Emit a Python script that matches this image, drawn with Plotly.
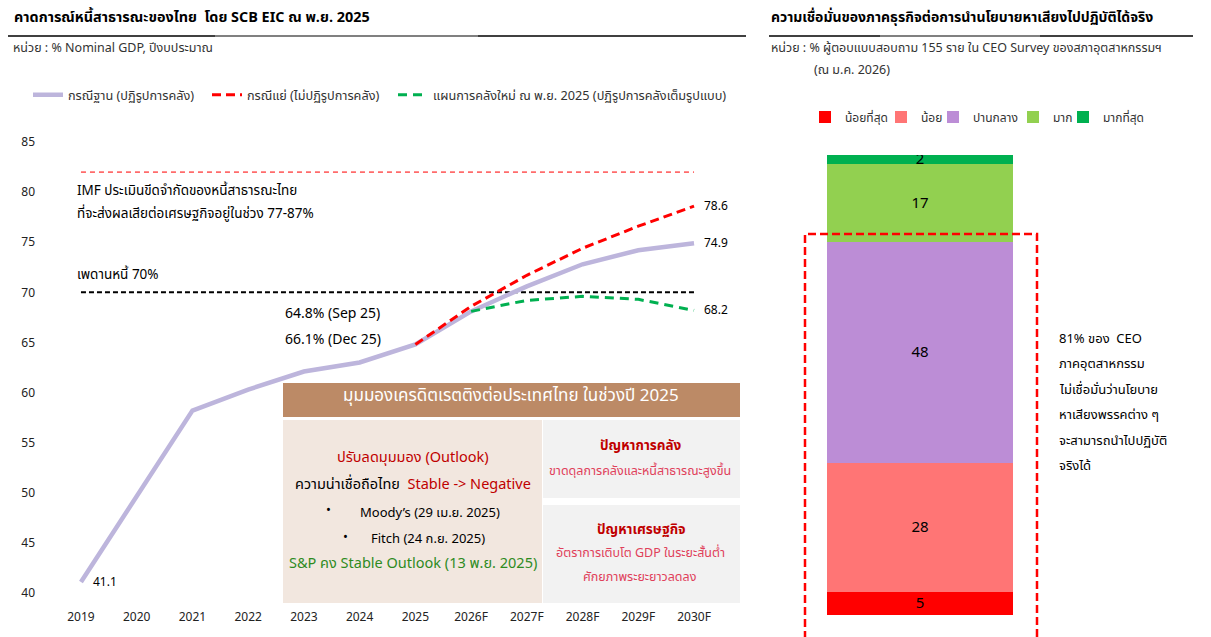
import plotly.graph_objects as go

# ---------------- data ----------------
years = ["2019", "2020", "2021", "2022", "2023", "2024", "2025",
         "2026F", "2027F", "2028F", "2029F", "2030F"]
base_case = [41.1, 49.7, 58.2, 60.3, 62.1, 63.0, 64.8, 68.1, 70.6, 72.8, 74.2, 74.9]
bad_case = [None, None, None, None, None, None, 64.8, 68.6, 71.7, 74.4, 76.6, 78.6]
new_plan = [None, None, None, None, None, None, None, 68.1, 69.2, 69.6, 69.3, 68.2]
debt_ceiling = 70
imf_line = 82
y_ticks = [40, 45, 50, 55, 60, 65, 70, 75, 80, 85]

survey_labels = ["น้อยที่สุด", "น้อย", "ปานกลาง", "มาก", "มากที่สุด"]
survey_values = [5, 28, 48, 17, 2]
survey_colors = ["#FF0000", "#FF7575", "#BC8DD6", "#92D050", "#00B050"]

FONT = "Tahoma, 'Noto Sans Thai', 'Leelawadee UI', 'Noto Sans', sans-serif"
W, H = 1211, 637


def px(x):
    return x / W


def py(y):
    return 1 - y / H


fig = go.Figure()

# reference lines
fig.add_trace(go.Scatter(x=years, y=[imf_line] * len(years), mode="lines",
                         line=dict(color="#FF6B6B", width=1.8, dash="5px,4px"),
                         showlegend=False, hoverinfo="skip"))
fig.add_trace(go.Scatter(x=years, y=[debt_ceiling] * len(years), mode="lines",
                         line=dict(color="#000000", width=2, dash="5px,3px"),
                         showlegend=False, hoverinfo="skip"))

fig.add_trace(go.Scatter(x=years, y=base_case, mode="lines", name="กรณีฐาน (ปฏิรูปการคลัง)",
                         line=dict(color="#BDB5DC", width=4.5), legend="legend"))
fig.add_trace(go.Scatter(x=years, y=bad_case, mode="lines", name="กรณีแย่ (ไม่ปฏิรูปการคลัง)",
                         line=dict(color="#FF0000", width=3, dash="9px,5px"), legend="legend2"))
fig.add_trace(go.Scatter(x=years, y=new_plan, mode="lines",
                         name="แผนการคลังใหม่ ณ พ.ย. 2025 (ปฏิรูปการคลังเต็มรูปแบบ)",
                         line=dict(color="#00B050", width=3, dash="9px,6px"), legend="legend3"))

# value labels (category axis: use the category index for the position)
first_idx = years.index(years[0])
last_idx = years.index(years[-1])
fig.add_annotation(x=first_idx, y=base_case[0], text=f"{base_case[0]}", xref="x", yref="y",
                   showarrow=False, xanchor="left", yanchor="middle", xshift=10,
                   font=dict(size=12, color="#000", family=FONT))
for series in (bad_case, base_case, new_plan):
    fig.add_annotation(x=last_idx, y=series[-1], text=f"{series[-1]}", xref="x", yref="y",
                       showarrow=False, xanchor="left", yanchor="middle", xshift=8,
                       font=dict(size=12, color="#000", family=FONT))

# stacked bar (right)
bar_legends = ["legend4", "legend5", "legend6", "legend7", "legend8"]
for lab, val, col, lg in zip(survey_labels, survey_values, survey_colors, bar_legends):
    fig.add_trace(go.Bar(x=["CEO"], y=[val], name=lab, marker=dict(color=col, line=dict(width=0)),
                         text=[str(val)], textposition="inside", insidetextanchor="middle",
                         constraintext="none", textangle=0, textfont=dict(size=15, color="#000"),
                         width=1, xaxis="x2", yaxis="y2", legend=lg))


def legend_at(text_x, y, size):
    return dict(orientation="h", x=px(text_x - 40), y=py(y), xanchor="left", yanchor="middle",
                font=dict(size=size, color="#333", family=FONT), bgcolor="rgba(0,0,0,0)",
                borderwidth=0, itemwidth=30)


left_legend_x = [68, 247, 433]
right_legend_x = [845, 921, 973, 1053, 1103]

layout_legends = {}
for i, tx in enumerate(left_legend_x):
    key = "legend" if i == 0 else f"legend{i + 1}"
    layout_legends[key] = legend_at(tx, 95, 12.7)
for lg, tx in zip(bar_legends, right_legend_x):
    layout_legends[lg] = legend_at(tx, 117, 12)

fig.update_layout(
    width=W, height=H, margin=dict(l=0, r=0, t=0, b=0),
    paper_bgcolor="white", plot_bgcolor="white",
    font=dict(family=FONT, size=12, color="#333"),
    barmode="stack", showlegend=True,
    xaxis=dict(domain=[px(53.1), px(721.9)], range=[-0.5, 11.5], type="category",
               showgrid=False, zeroline=False, showline=False, ticks="",
               ticklabelstandoff=5, tickfont=dict(size=12, color="#222"), anchor="y"),
    yaxis=dict(domain=[py(603), py(132)], range=[39, 86], tickvals=y_ticks,
               showgrid=False, zeroline=False, showline=False, ticks="",
               ticklabelstandoff=17, tickfont=dict(size=12, color="#222"), anchor="x"),
    xaxis2=dict(domain=[px(827), px(1013)], range=[-0.5, 0.5], showticklabels=False,
                showgrid=False, zeroline=False, showline=False, anchor="y2"),
    yaxis2=dict(domain=[py(615), py(155)], range=[0, 100], showticklabels=False,
                showgrid=False, zeroline=False, showline=False, anchor="x2"),
    **layout_legends,
)

shapes = []


def hline(x0, x1, y, color, width=2):
    shapes.append(dict(type="line", xref="paper", yref="paper", x0=px(x0), x1=px(x1), y0=py(y), y1=py(y),
                       line=dict(color=color, width=width)))


# title underlines
hline(8, 215, 36, "#404040")
hline(215, 478, 36, "#808080")
hline(478, 746, 36, "#404040")
hline(769, 880, 36, "#404040")
hline(880, 1040, 36, "#808080")
hline(1040, 1193, 36, "#404040")


def rect(x0, x1, y0, y1, fill):
    shapes.append(dict(type="rect", xref="paper", yref="paper", x0=px(x0), x1=px(x1), y0=py(y1), y1=py(y0),
                       fillcolor=fill, line=dict(width=0), layer="above"))


# credit box
rect(283, 740, 383, 417, "#BC8A66")
rect(283, 542, 420, 603, "#F2E7DF")
rect(543, 740, 420, 498, "#F2F2F2")
rect(543, 740, 505, 603, "#F2F2F2")
# red dashed frame on right
shapes.append(dict(type="rect", xref="paper", yref="paper", x0=px(805), x1=px(1037), y0=py(645), y1=py(234),
                   line=dict(color="#FF0000", width=2.5, dash="8px,4px"), fillcolor="rgba(0,0,0,0)",
                   layer="above"))
fig.update_layout(shapes=shapes)


def note(x, y, text, size=12, color="#000", anchor="left", bold=False):
    if bold:
        text = f"<b>{text}</b>"
    fig.add_annotation(x=px(x), y=py(y), xref="paper", yref="paper", text=text, showarrow=False,
                       xanchor=anchor, yanchor="middle", align=anchor,
                       font=dict(size=size, color=color, family=FONT))


# titles
note(12, 18, "คาดการณ์หนี้สาธารณะของไทย  โดย SCB EIC ณ พ.ย. 2025", size=14.4, color="#000", bold=True)
note(11, 48, "หน่วย : % Nominal GDP, ปีงบประมาณ", size=12.5, color="#333")
note(769, 18, "ความเชื่อมั่นของภาคธุรกิจต่อการนำนโยบายหาเสียงไปปฏิบัติได้จริง", size=14, color="#000", bold=True)
note(769, 48, "หน่วย : % ผู้ตอบแบบสอบถาม 155 ราย ใน CEO Survey ของสภาอุตสาหกรรมฯ", size=12.5, color="#333")
note(812, 71, "(ณ ม.ค. 2026)", size=12.5, color="#333")

# left chart notes
note(75, 191, "IMF ประเมินขีดจำกัดของหนี้สาธารณะไทย", size=13.5)
note(75, 214, "ที่จะส่งผลเสียต่อเศรษฐกิจอยู่ในช่วง 77-87%", size=13.5)
note(75, 275, "เพดานหนี้ 70%", size=13.5)
note(283, 313, "64.8% (Sep 25)", size=14)
note(283, 339, "66.1% (Dec 25)", size=14)

# credit box text
note(511, 396, "มุมมองเครดิตเรตติงต่อประเทศไทย ในช่วงปี 2025", size=17, color="#FFFFFF", anchor="center")
note(413, 458, "ปรับลดมุมมอง (Outlook)", size=14.5, color="#C00000", anchor="center")
note(413, 485, "ความน่าเชื่อถือไทย  <span style='color:#C00000'>Stable -> Negative</span>", size=14.5,
     color="#000", anchor="center")
note(329, 510, "•", size=13, anchor="center")
note(430, 513, "Moody’s (29 เม.ย. 2025)", size=13, anchor="center")
note(345, 537, "•", size=13, anchor="center")
note(428, 539, "Fitch (24 ก.ย. 2025)", size=13, anchor="center")
note(413, 564, "S&P คง Stable Outlook (13 พ.ย. 2025)", size=14.5, color="#2E8B1E", anchor="center")
note(641, 446, "ปัญหาการคลัง", size=13.5, color="#C00000", anchor="center", bold=True)
note(640, 471, "ขาดดุลการคลังและหนี้สาธารณะสูงขึ้น", size=12.5, color="#E0405A", anchor="center")
note(641, 530, "ปัญหาเศรษฐกิจ", size=13.5, color="#C00000", anchor="center", bold=True)
note(640, 553, "อัตราการเติบโต GDP ในระยะสั้นต่ำ", size=12.5, color="#E0405A", anchor="center")
note(640, 577, "ศักยภาพระยะยาวลดลง", size=12.5, color="#E0405A", anchor="center")

# right side note
right_lines = ["81% ของ  CEO", "ภาคอุตสาหกรรม", "ไม่เชื่อมั่นว่านโยบาย", "หาเสียงพรรคต่าง ๆ",
               "จะสามารถนำไปปฏิบัติ", "จริงได้"]
for i, ln in enumerate(right_lines):
    note(1057, 339 + i * 25.4, ln, size=13, color="#000")

fig.write_html("out.html", config={"displayModeBar": False},
               post_script="document.body.style.margin='0px';document.body.style.padding='0px';")
